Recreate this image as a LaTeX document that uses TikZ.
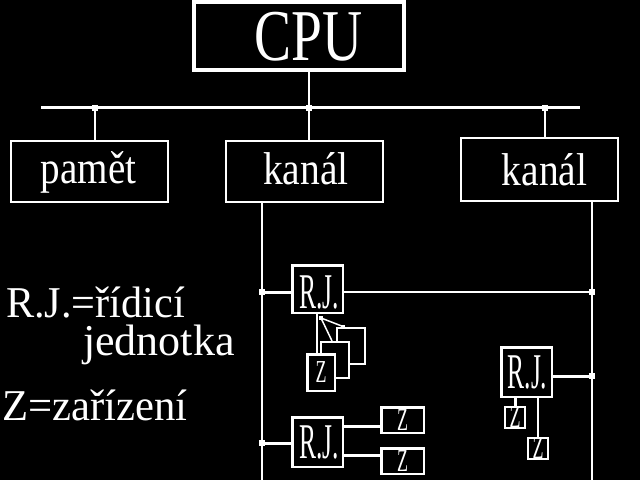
\documentclass[tikz,border=0pt]{standalone}
\usepackage{fontspec}
\setmainfont{Liberation Serif}
\usetikzlibrary{calc}
\begin{document}
\begin{tikzpicture}[x=1pt,y=-1pt,
  box/.style={draw=white, fill=black, line width=2pt, inner sep=0pt, rectangle},
  dot/.style={fill=white, inner sep=0pt, minimum size=6pt, rectangle},
  wire/.style={draw=white, line width=1.5pt},
  boldwire/.style={draw=white, line width=3pt},
  lbl/.style={text=white, inner sep=0pt, anchor=base},
  boxfont/.style={font={\fontsize{46}{46}\selectfont}},
  legfont/.style={font={\fontsize{44}{44}\selectfont}},
  rjfont/.style={font={\fontsize{50}{50}\selectfont}},
  zfont/.style={text=white, font={\fontsize{32}{32}\selectfont}},
]
\fill[black] (0,0) rectangle (640,480);
\useasboundingbox (0,0) rectangle (640,480);

% CPU
\node[box, line width=4pt, minimum width=210pt, minimum height=68pt] (cpu) at (299,36) {};
\node[lbl, font={\fontsize{73}{73}\selectfont}] (cpuT) at (308.5,60) {\scalebox{0.76}[1]{CPU}};

% bus
\coordinate (busL) at (41,107.5);
\coordinate (busR) at (580,107.5);
\draw[white, line width=3.5pt] (busL) -- (busR);
\node[dot] (d1) at (95,107.5) {};
\node[dot] (d2) at (309,107.5) {};
\node[dot] (d3) at (545,107.5) {};
\draw[wire] (cpu.south -| d2) -- (d2.center);

% memory and channels
\node[box, minimum width=157pt, minimum height=61pt] (mem) at (89.5,171.5) {};
\node[lbl, boxfont] (memT) at (88.5,183) {\scalebox{0.85}[1]{pamět}};
\node[box, minimum width=157pt, minimum height=61pt] (kan1) at (304.5,171.5) {};
\node[lbl, boxfont] (kan1T) at (306,184) {\scalebox{0.86}[1]{kanál}};
\node[box, minimum width=157pt, minimum height=63pt] (kan2) at (539.5,169.5) {};
\node[lbl, boxfont] (kan2T) at (544.5,185) {\scalebox{0.86}[1]{kanál}};

\draw[wire] (d1.center) -- (d1.center |- mem.north);
\draw[wire] (d2.center) -- (d2.center |- kan1.north);
\draw[wire] (d3.center) -- (d3.center |- kan2.north);

% channel lines
\coordinate (v1) at (262,480);
\coordinate (v2) at (592,480);
\draw[wire] (v1 |- kan1.south) -- (v1);
\draw[wire] (v2 |- kan2.south) -- (v2);

% Z stack under RJ1
\node[box, minimum width=28pt, minimum height=36pt] (zb) at (351,346) {};
\node[box, minimum width=28pt, minimum height=36pt] (zm) at (335,360) {};
\node[box, line width=2.5pt, minimum width=27.5pt, minimum height=36.5pt, zfont] (zf) at (321,372.5) {\scalebox{0.56}[1]{Z}};

% RJ boxes
\node[box, line width=2.5pt, minimum width=50.5pt, minimum height=47.5pt] (rj1) at (317.5,289) {};
\node[lbl, rjfont] (rj1T) at (319,308) {\scalebox{0.51}[1]{R.J.}};
\node[box, line width=2.5pt, minimum width=50.5pt, minimum height=49.5pt] (rj2) at (317.5,442) {};
\node[lbl, rjfont] (rj2T) at (319,458) {\scalebox{0.51}[1]{R.J.}};
\node[box, line width=2.5pt, minimum width=50.5pt, minimum height=49.5pt] (rj3) at (526.5,372) {};
\node[lbl, rjfont] (rj3T) at (527.5,388) {\scalebox{0.51}[1]{R.J.}};

% Z boxes of RJ2 and RJ3
\node[box, line width=2.5pt, minimum width=42.5pt, minimum height=25.5pt, zfont] (z2a) at (402.5,420) {\scalebox{0.56}[1]{Z}};
\node[box, line width=2.5pt, minimum width=42.5pt, minimum height=25.5pt, zfont] (z2b) at (402.5,461) {\scalebox{0.56}[1]{Z}};
\node[box, minimum width=20pt, minimum height=21pt, zfont] (z3a) at (515,417.5) {\scalebox{0.56}[1]{Z}};
\node[box, minimum width=20pt, minimum height=21pt, zfont] (z3b) at (538,448.5) {\scalebox{0.56}[1]{Z}};

% dots on channel lines
\node[dot] (d4) at (262,292) {};
\node[dot] (d5) at (592,292) {};
\node[dot] (d6) at (592,376) {};
\node[dot] (d7) at (262,443) {};

% connections
\draw[boldwire] (d4.center) -- (d4.center -| rj1.west);
\draw[draw=white, line width=2.5pt] (d5.center -| rj1.east) -- (d5.center);
\draw[boldwire] (d6.center -| rj3.east) -- (d6.center);
\draw[boldwire] (d7.center) -- (d7.center -| rj2.west);
\draw[boldwire] ([yshift=-6pt]z2a.west -| rj2.east) -- ([yshift=-6pt]z2a.west);
\draw[boldwire] ([yshift=6pt]z2b.west -| rj2.east) -- ([yshift=6pt]z2b.west);
\draw[boldwire] (z3a.north |- rj3.south) -- (z3a.north);
\draw[wire] (z3b.north |- rj3.south) -- (z3b.north);
\draw[wire] ([xshift=-4pt]zf.north |- rj1.south) -- ([xshift=-4pt]zf.north);

% fan to stacked devices
\node[dot, minimum size=4pt] (fan) at (321,318) {};
\node[dot, minimum size=4pt] (fan2) at (343,326.5) {};
\draw[wire] (fan.center) -- ([xshift=-3pt]zm.north);
\draw[wire] (fan.center) -- (fan2.center);

% legend
\node[lbl, legfont, anchor=base west] (leg1) at (6,317) {\scalebox{0.96}[1]{R.J.=řídicí}};
\node[lbl, legfont, anchor=base west] (leg2) at (83,355) {jednotka};
\node[lbl, legfont, anchor=base west] (leg3) at (2,420) {\scalebox{0.97}[1]{Z=zařízení}};
\end{tikzpicture}
\end{document}
